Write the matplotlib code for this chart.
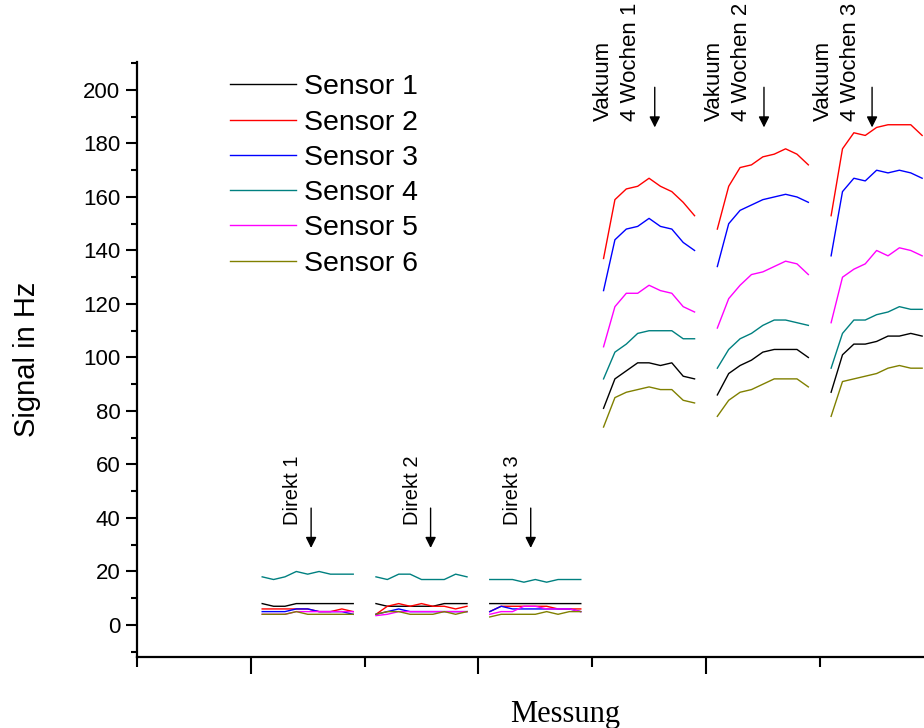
import numpy as np
import matplotlib
matplotlib.use("Agg")
import matplotlib.pyplot as plt

plt.rcParams["font.family"] = ["Liberation Sans", "DejaVu Sans"]

# ---- data: 6 measurement blocks (Direkt 1-3, Vakuum 1-3), 9 points each ----
block_start = [11, 21, 31, 41, 51, 61]
n_points = 9

sensor_1 = [
    [8, 7, 7, 8, 8, 8, 8, 8, 8],
    [8, 7, 7, 7, 7, 7, 8, 8, 8],
    [8, 8, 8, 8, 8, 8, 8, 8, 8],
    [81, 92, 95, 98, 98, 97, 98, 93, 92],
    [86, 94, 97, 99, 102, 103, 103, 103, 100],
    [87, 101, 105, 105, 106, 108, 108, 109, 108],
]
sensor_2 = [
    [6, 6, 6, 6, 6, 5, 5, 6, 5],
    [4, 7, 8, 7, 8, 7, 7, 6, 7],
    [5, 7, 7, 7, 7, 7, 6, 6, 6],
    [137, 159, 163, 164, 167, 164, 162, 158, 153],
    [148, 164, 171, 172, 175, 176, 178, 176, 172],
    [153, 178, 184, 183, 186, 187, 187, 187, 183],
]
sensor_3 = [
    [5, 5, 5, 6, 6, 5, 5, 5, 4],
    [4, 5, 6, 5, 5, 5, 5, 5, 5],
    [5, 7, 6, 6, 6, 6, 6, 6, 5],
    [125, 144, 148, 149, 152, 149, 148, 143, 140],
    [134, 150, 155, 157, 159, 160, 161, 160, 158],
    [138, 162, 167, 166, 170, 169, 170, 169, 167],
]
sensor_4 = [
    [18, 17, 18, 20, 19, 20, 19, 19, 19],
    [18, 17, 19, 19, 17, 17, 17, 19, 18],
    [17, 17, 17, 16, 17, 16, 17, 17, 17],
    [92, 102, 105, 109, 110, 110, 110, 107, 107],
    [96, 103, 107, 109, 112, 114, 114, 113, 112],
    [96, 109, 114, 114, 116, 117, 119, 118, 118],
]
sensor_5 = [
    [4, 4, 4, 5, 5, 5, 5, 5, 5],
    [3.5, 4, 5, 5, 5, 5, 5, 5, 5],
    [4, 5, 5, 7, 7, 6, 6, 6, 5],
    [104, 119, 124, 124, 127, 125, 124, 119, 117],
    [111, 122, 127, 131, 132, 134, 136, 135, 131],
    [113, 130, 133, 135, 140, 138, 141, 140, 138],
]
sensor_6 = [
    [4, 4, 4, 5, 4, 4, 4, 4, 4],
    [4, 5, 5, 4, 4, 4, 5, 4, 5],
    [3, 4, 4, 4, 4, 5, 4, 5, 5],
    [74, 85, 87, 88, 89, 88, 88, 84, 83],
    [78, 84, 87, 88, 90, 92, 92, 92, 89],
    [78, 91, 92, 93, 94, 96, 97, 96, 96],
]

sensors = [sensor_1, sensor_2, sensor_3, sensor_4, sensor_5, sensor_6]
labels = ["Sensor 1", "Sensor 2", "Sensor 3", "Sensor 4", "Sensor 5", "Sensor 6"]
colors = ["#000000", "#ff0000", "#0000ff", "#008080", "#ff00ff", "#808000"]

direkt_labels = ["Direkt 1", "Direkt 2", "Direkt 3"]
direkt_text_x = [13.7, 24.25, 33.0]
direkt_arrow_x = [15.3, 25.8, 34.6]
vakuum_labels = ["Vakuum\n4 Wochen 1", "Vakuum\n4 Wochen 2", "Vakuum\n4 Wochen 3"]
vakuum_text_x = [42.15, 51.95, 61.5]
vakuum_arrow_x = [45.5, 55.1, 64.6]


def join_blocks(blocks):
    """Concatenate blocks into one series, NaN between them."""
    xs, ys = [], []
    for start, vals in zip(block_start, blocks):
        xs.extend(list(start + np.arange(n_points)) + [start + n_points])
        ys.extend(list(vals) + [np.nan])
    return np.array(xs, float), np.array(ys, float)


fig = plt.figure(figsize=(9.24, 7.28), dpi=100)
ax = fig.add_axes([0.1483, 0.0974, 0.862, 0.8176])

for blocks, lab, col in zip(sensors, labels, colors):
    x, y = join_blocks(blocks)
    ax.plot(x, y, "-", color=col, lw=1.0, label=lab)

ax.set_xlim(0, 70)
ax.set_ylim(-12, 210.5)

ax.spines["top"].set_visible(False)
ax.spines["right"].set_visible(False)
ax.spines["left"].set_linewidth(1.6)
ax.spines["bottom"].set_linewidth(1.6)

ax.set_yticks(np.arange(0, 201, 20))
ax.set_yticks(np.arange(-10, 211, 10), minor=True)
ax.set_xticks([10, 30, 50, 70])
ax.set_xticks([0, 20, 40, 60], minor=True)
ax.set_xticklabels([])
ax.tick_params(axis="y", which="major", direction="out", length=8, width=1.5,
               labelsize=16, pad=4)
ax.tick_params(axis="y", which="minor", direction="out", length=4, width=1.5)
ax.tick_params(axis="x", which="major", direction="out", length=12, width=1.5)
ax.tick_params(axis="x", which="minor", direction="out", length=7, width=1.5)

ax.set_ylabel("Signal in Hz", fontsize=21)
ax.yaxis.set_label_coords(-0.12, 0.5)
ax.set_xlabel("Messung", fontsize=22, family=["Liberation Serif", "DejaVu Serif"])
ax.xaxis.set_label_coords(0.538, -0.072)

# ---- annotations ----
for lab, tx, axx in zip(direkt_labels, direkt_text_x, direkt_arrow_x):
    ax.text(tx, 37.4, lab, rotation=90, rotation_mode="anchor",
            ha="left", va="center", fontsize=14.5)
    ax.annotate("", xy=(axx, 28.8), xytext=(axx, 43.7),
                arrowprops=dict(arrowstyle="-|>", color="black", lw=1.0,
                                mutation_scale=16, shrinkA=0, shrinkB=0))

for lab, tx, axx in zip(vakuum_labels, vakuum_text_x, vakuum_arrow_x):
    ax.text(tx, 188.5, lab, rotation=90, rotation_mode="anchor",
            ha="left", va="center", fontsize=16, linespacing=1.38)
    ax.annotate("", xy=(axx, 186), xytext=(axx, 201),
                arrowprops=dict(arrowstyle="-|>", color="black", lw=1.0,
                                mutation_scale=16, shrinkA=0, shrinkB=0),
                annotation_clip=False)

ax.legend(loc="upper left", bbox_to_anchor=(0.249, 0.898),
          bbox_transform=fig.transFigure, frameon=False, fontsize=20.5,
          handlelength=2.3, handletextpad=0.28, labelspacing=0.325,
          borderpad=0, borderaxespad=0)

fig.savefig("out.png", dpi=100)
plt.close(fig)
